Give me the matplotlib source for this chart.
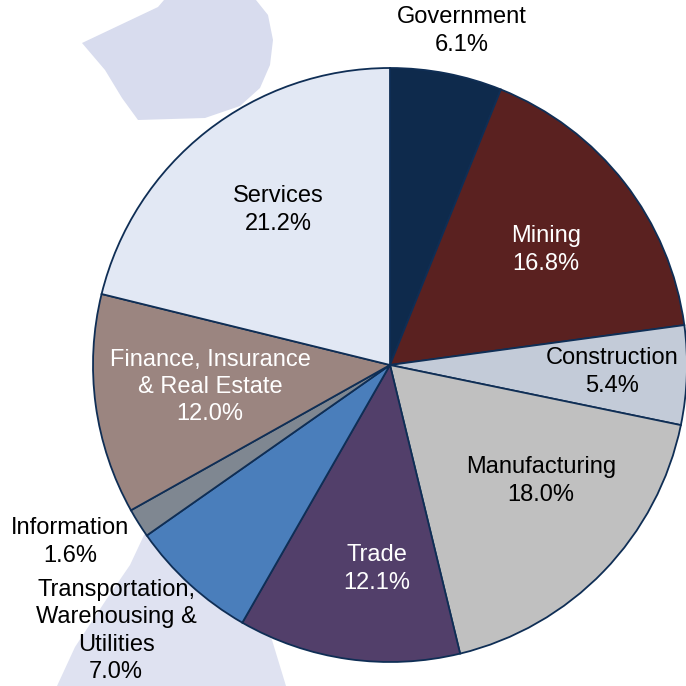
import matplotlib.pyplot as plt
from matplotlib.patches import Polygon

plt.rcParams['font.family'] = ['Liberation Sans', 'DejaVu Sans']

sectors = ['Government', 'Mining', 'Construction', 'Manufacturing', 'Trade',
           'Transportation,\nWarehousing &\nUtilities', 'Information',
           'Finance, Insurance\n& Real Estate', 'Services']
shares = [6.1, 16.8, 5.4, 18.0, 12.1, 7.0, 1.6, 12.0, 21.2]

colors = ['#0e2a4c', '#5a2120', '#c3cbd8', '#c0c0c0', '#523f6a',
          '#4a7ebb', '#7f8791', '#9b8580', '#e2e8f4']
text_colors = ['black', 'white', 'black', 'black', 'white',
               'black', 'black', 'white', 'black']
# label centres in pixels (x from left, y from top)
label_pos = [(462, 31), (546, 250), (612, 372), (541, 481), (377, 569),
             (116, 631), (70, 542), (210, 387), (278, 210)]

W = H = 686


def px(x, y):
    return x, H - y


fig = plt.figure(figsize=(6.86, 6.86), dpi=100)
ax = fig.add_axes([0, 0, 1, 1])

# faint watermark shapes behind the pie
top_shape = [(82, 43), (158, 7), (164, 0), (256, 0), (268, 15), (273, 40),
             (270, 65), (260, 88), (240, 106), (205, 118), (138, 120),
             (122, 98), (105, 70)]
bottom_shape = [(145, 533), (200, 560), (250, 600), (272, 640), (286, 686),
                (57, 686), (75, 647), (106, 600), (130, 565)]
for shape, fc in ((top_shape, '#d8dcee'), (bottom_shape, '#dfe2f1')):
    ax.add_patch(Polygon([px(x, y) for x, y in shape], closed=True,
                         facecolor=fc, edgecolor='none', zorder=0))

ax.pie(shares, colors=colors, startangle=90, counterclock=False,
       center=px(390, 365), radius=297, frame=True,
       wedgeprops=dict(edgecolor='#0f2e55', linewidth=1.3, zorder=2))
ax.set_xlim(0, W)
ax.set_ylim(0, H)
ax.set_aspect('equal')
ax.axis('off')

for name, val, (x, y), c in zip(sectors, shares, label_pos, text_colors):
    ax.text(*px(x, y), f'{name}\n{val:.1f}%', ha='center', va='center',
            multialignment='center', fontsize=17, color=c,
            linespacing=1.31, zorder=3)

fig.savefig('out.png', dpi=100)
